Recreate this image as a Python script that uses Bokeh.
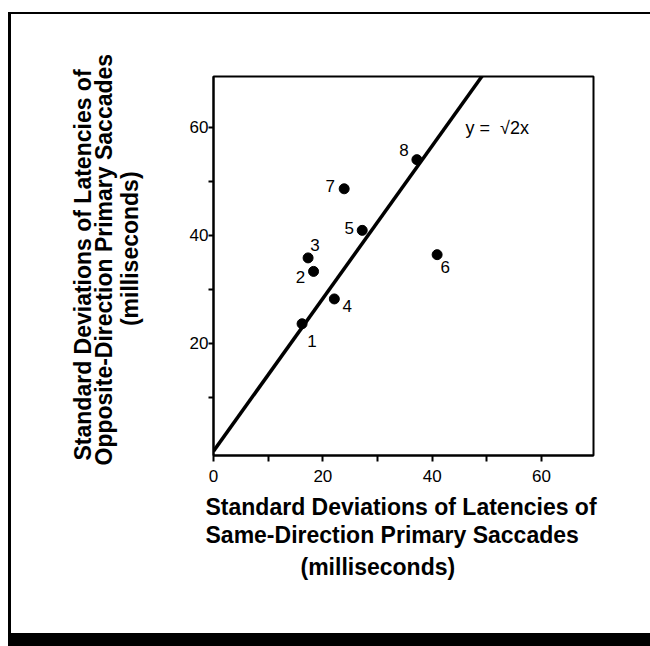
import math
from bokeh.plotting import figure
from bokeh.models import Label, FixedTicker, ColumnDataSource, Title
from bokeh.core.properties import value
from bokeh.embed import file_html
from bokeh.resources import INLINE

# data
point_ids = ["1", "2", "3", "4", "5", "6", "7", "8"]
same_dir_sd = [16.2, 18.3, 17.3, 22.1, 27.2, 40.9, 23.9, 37.2]
opp_dir_sd = [23.6, 33.3, 35.8, 28.2, 40.9, 36.4, 48.6, 54.0]
x_ticks = [0, 10, 20, 30, 40, 50, 60]
y_ticks = [10, 20, 30, 40, 50, 60]
labelled_ticks = [0, 20, 40, 60]
line_x = [0, 50]
line_y = [math.sqrt(2) * v for v in line_x]
x_title_lines = ["Standard Deviations of Latencies of",
                 "Same-Direction Primary Saccades",
                 "(milliseconds)"]
y_title_lines = ["Standard Deviations of Latencies of",
                 "Opposite-Direction  Primary Saccades",
                 "(milliseconds)"]

# label offsets (screen px) for the point numbers
lab_dx = [10, -13, 7, 13, -13, 8, -14, -13]
lab_dy = [17, 6, -13, 7, -2, 12, -3, -10]

W, H = 642, 634
p = figure(width=W, height=H, x_range=(0, 69.5), y_range=(-0.8, 69.4),
           output_backend="svg", toolbar_location=None,
           min_border_left=202, min_border_right=60, min_border_top=62,
           min_border_bottom=193,
           styles={"border-top": "2px solid black", "border-left": "3px solid black",
                   "border-bottom": "13px solid black", "border-right": "none",
                   "margin-top": "12px", "margin-left": "8px"})
p.background_fill_color = "white"
p.border_fill_color = "white"
p.outline_line_color = "black"
p.outline_line_width = 2
p.xgrid.visible = False
p.ygrid.visible = False

for ax, ticks in ((p.xaxis[0], x_ticks), (p.yaxis[0], y_ticks)):
    ax.ticker = FixedTicker(ticks=ticks)
    ax.major_label_overrides = {t: ("" if t not in labelled_ticks else str(t)) for t in ticks}
    ax.axis_line_width = 2
    ax.major_tick_line_width = 2
    ax.major_tick_in = 0
    ax.minor_tick_line_color = None
    ax.major_label_text_font = "Liberation Sans"
    ax.major_label_text_font_size = "17px"
    ax.major_label_text_color = "black"
p.xaxis[0].major_tick_out = 6
p.xaxis[0].major_label_standoff = 8
p.yaxis[0].major_tick_out = 5
p.yaxis[0].major_label_standoff = 0

# innermost line of the y title is the axis label itself
yax = p.yaxis[0]
yax.axis_label = "\u2002\u2002\u2002" + y_title_lines[2]
yax.axis_label_standoff = 44
yax.axis_label_text_font = "Liberation Sans"
yax.axis_label_text_font_style = "bold"
yax.axis_label_text_font_size = "23px"
yax.axis_label_text_color = "black"

p.line(line_x, line_y, line_width=3.5, line_color="black")

src = ColumnDataSource(dict(x=same_dir_sd, y=opp_dir_sd, t=point_ids, dx=lab_dx, dy=lab_dy))
p.scatter("x", "y", source=src, size=10, color="black")
p.text("x", "y", text="t", source=src, x_offset="dx", y_offset="dy",
       text_align="center", text_baseline="middle", text_font=value("Liberation Sans"),
       text_font_size="17px", text_color="black")

p.add_layout(Label(x=46.1, y=59.9, text="y = \u00a0\u221a2x", text_align="left",
                   text_baseline="middle", text_font="Liberation Sans",
                   text_font_size="18px", text_color="black"))

def title(text, align, offset, standoff, valign):
    return Title(text=text, align=align, offset=offset, standoff=standoff,
                 vertical_align=valign,
                 text_font="Liberation Sans", text_font_style="bold",
                 text_font_size="23px", text_color="black")

# below: stacked outward from the x axis
p.add_layout(title(x_title_lines[0], "left", -8, 19, "top"), "below")
p.add_layout(title(x_title_lines[1], "left", -8, -19, "top"), "below")
p.add_layout(title(x_title_lines[2], "left", 87, 26, "top"), "below")

# left: stacked outward from the y axis (beyond its label)
p.add_layout(title(y_title_lines[1], "left", -10, -6.5, "bottom"), "left")
p.add_layout(title(y_title_lines[0], "left", -5, -9.5, "bottom"), "left")

open("out.html", "w").write(file_html(p, INLINE))
